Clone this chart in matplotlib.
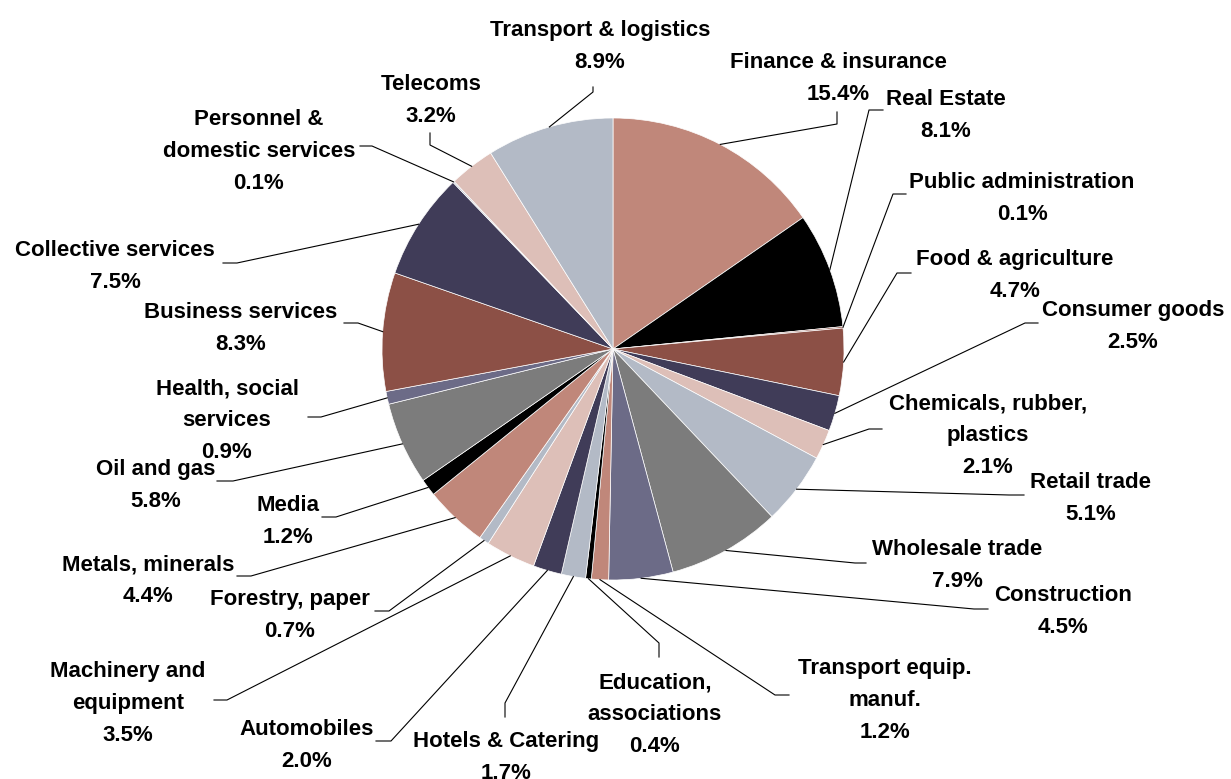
import numpy as np
import matplotlib
matplotlib.use("Agg")
import matplotlib.pyplot as plt

# sector shares, clockwise from 12 o'clock
sectors = ["Finance & insurance", "Real Estate", "Public administration",
           "Food & agriculture", "Consumer goods", "Chemicals, rubber,\nplastics",
           "Retail trade", "Wholesale trade", "Construction",
           "Transport equip.\nmanuf.", "Education,\nassociations", "Hotels & Catering",
           "Automobiles", "Machinery and\nequipment", "Forestry, paper",
           "Metals, minerals", "Media", "Oil and gas", "Health, social\nservices",
           "Business services", "Collective services", "Personnel &\ndomestic services",
           "Telecoms", "Transport & logistics"]
shares = [15.4, 8.1, 0.1, 4.7, 2.5, 2.1, 5.1, 7.9, 4.5, 1.2, 0.4, 1.7,
          2.0, 3.5, 0.7, 4.4, 1.2, 5.8, 0.9, 8.3, 7.5, 0.1, 3.2, 8.9]

ROSE, BLACK, BROWN, NAVY = "#C0877A", "#000000", "#8C5046", "#403C58"
PINK, LBLUE, GREY, PURPLE = "#DDBFB8", "#B3BAC6", "#7C7C7C", "#6C6B87"
colors = [ROSE, BLACK, BROWN, BROWN, NAVY, PINK, LBLUE, GREY, PURPLE,
          ROSE, BLACK, LBLUE, NAVY, PINK, LBLUE, ROSE, BLACK, GREY, PURPLE,
          BROWN, NAVY, LBLUE, PINK, LBLUE]

# label layout in pixels: (text x, first line y), leader elbow, leader end
label_xy = [(838, 60), (946, 97), (1022, 180), (1015, 257), (1133, 308),
            (988, 401), (1091, 480), (957, 547), (1063, 593), (885, 666),
            (655, 680), (506, 739), (307, 727), (128, 669), (290, 597),
            (148, 562), (288, 503), (156, 467), (227, 386), (241, 310),
            (115, 248), (259, 117), (431, 82), (600, 28)]
elbows = [(837, 124), (869, 110), (893, 194), (897, 273), (1025, 323),
          (869, 429), (1009, 495), (855, 563), (974, 609), (775, 695),
          (659, 643), (505, 703), (391, 741), (227, 700), (389, 611),
          (251, 576), (336, 517), (233, 481), (321, 417), (358, 323),
          (237, 263), (372, 146), (430, 145), (593, 92)]
ends = [(837, 112), (883, 110), (906, 194), (911, 273), (1038, 323),
        (882, 429), (1024, 495), (866, 563), (988, 609), (789, 695),
        (659, 657), (505, 717), (376, 741), (214, 700), (375, 611),
        (237, 576), (322, 517), (217, 481), (308, 417), (344, 323),
        (223, 263), (360, 146), (430, 133), (593, 87)]

W, H = 1231, 779
fig = plt.figure(figsize=(W / 100, H / 100), dpi=100)
ax = fig.add_axes([0, 0, 1, 1])

# y axis runs downward, so start at -90 and go counterclockwise in data = clockwise on screen
wedges, _ = ax.pie(shares, colors=colors, startangle=-90, counterclock=True,
                   center=(613, 349), radius=231,
                   wedgeprops=dict(edgecolor="white", linewidth=0.5))

ax.set_xlim(0, W)
ax.set_ylim(H, 0)
ax.set_aspect("equal")
ax.axis("off")

for w, name, val, (tx, ty), (ex, ey), (fx, fy) in zip(wedges, sectors, shares,
                                                       label_xy, elbows, ends):
    ang = np.deg2rad((w.theta1 + w.theta2) / 2)
    sx = w.center[0] + w.r * np.cos(ang)
    sy = w.center[1] + w.r * np.sin(ang)
    ax.plot([sx, ex, fx], [sy, ey, fy], color="black", lw=0.8)
    ax.text(tx, ty - 8, f"{name}\n{val:.1f}%", ha="center", va="top",
            multialignment="center", fontsize=16, fontweight="bold",
            family="Liberation Sans", linespacing=1.68)

fig.savefig("out.png", dpi=100)
